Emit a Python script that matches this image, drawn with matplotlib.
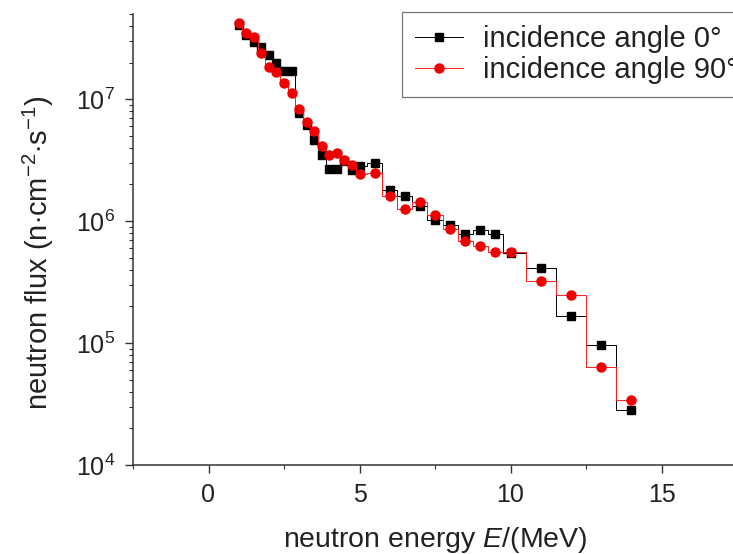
import matplotlib
matplotlib.use("Agg")
import matplotlib.pyplot as plt
from matplotlib.ticker import MultipleLocator, LogLocator, NullFormatter

plt.rcParams["font.family"] = ["Liberation Sans", "DejaVu Sans"]
plt.rcParams["mathtext.fontset"] = "custom"
plt.rcParams["mathtext.rm"] = "Liberation Sans"
plt.rcParams["mathtext.it"] = "Liberation Sans:italic"
plt.rcParams["mathtext.bf"] = "Liberation Sans:bold"

# neutron energy bins (MeV) and flux for the two incidence angles
energy = [1.0, 1.25, 1.5, 1.75, 2.0, 2.25, 2.5, 2.75, 3.0, 3.25, 3.5, 3.75,
          4.0, 4.25, 4.5, 4.75, 5.0, 5.5, 6.0, 6.5, 7.0, 7.5, 8.0, 8.5,
          9.0, 9.5, 10.0, 11.0, 12.0, 13.0, 14.0]
flux_0 = [4.1e7, 3.35e7, 2.93e7, 2.67e7, 2.30e7, 1.97e7, 1.70e7, 1.70e7,
          7.68e6, 6.12e6, 4.61e6, 3.47e6, 2.67e6, 2.67e6, 3.1e6, 2.62e6,
          2.82e6, 2.99e6, 1.79e6, 1.61e6, 1.33e6, 1.02e6, 9.27e5, 7.82e5,
          8.44e5, 7.82e5, 5.47e5, 4.14e5, 1.67e5, 9.6e4, 2.82e4]
flux_90 = [4.2e7, 3.50e7, 3.24e7, 2.38e7, 1.84e7, 1.67e7, 1.36e7, 1.13e7,
           8.24e6, 6.48e6, 5.47e6, 4.12e6, 3.47e6, 3.59e6, 3.20e6, 2.88e6,
           2.43e6, 2.47e6, 1.60e6, 1.25e6, 1.44e6, 1.13e6, 8.55e5, 6.90e5,
           6.24e5, 5.60e5, 5.60e5, 3.22e5, 2.47e5, 6.4e4, 3.41e4]
labels = ["incidence angle 0°", "incidence angle 90°"]

W, H = 733, 554
fig = plt.figure(figsize=(W / 100, H / 100), dpi=100)
ax = fig.add_axes([133 / W, 89 / H, 604 / W, 451 / H])

text_color = "#222222"

ax.step(energy, flux_0, where="mid", color="black", lw=0.7,
        marker="s", ms=5.5, mec="black", mfc="black", label=labels[0])
ax.step(energy, flux_90, where="mid", color="#ff2020", lw=0.7,
        marker="o", ms=6.5, mec="#ee0000", mfc="#ee0000", label=labels[1])

ax.set_yscale("log")
ax.set_xlim(-2.5, 17.5)
ax.set_ylim(1e4, 5e7)

ax.xaxis.set_major_locator(MultipleLocator(5))
ax.xaxis.set_minor_locator(MultipleLocator(2.5))
ax.yaxis.set_major_locator(LogLocator(base=10, numticks=10))
ax.yaxis.set_minor_locator(LogLocator(base=10, subs=range(2, 10), numticks=20))
ax.yaxis.set_minor_formatter(NullFormatter())

for side in ("top", "right"):
    ax.spines[side].set_visible(False)
for side in ("left", "bottom"):
    ax.spines[side].set_linewidth(1.1)
    ax.spines[side].set_color("#333333")

ax.tick_params(which="major", direction="out", length=6, width=1.0,
               labelsize=18, colors="#333333", labelcolor=text_color, pad=7)
ax.tick_params(which="minor", direction="out", length=3, width=0.8,
               colors="#333333")

ax.set_xlabel(r"neutron energy $\it{E}$/(MeV)", fontsize=20.5, color=text_color,
              labelpad=13)
ax.set_ylabel(r"neutron flux (n$\cdot$cm$^{-2}$$\cdot$s$^{-1}$)", fontsize=21,
              color=text_color)
ax.yaxis.set_label_coords(-0.128, 0.47)

leg = ax.legend(loc="upper left", bbox_to_anchor=(0.445, 1.005),
                borderaxespad=0, fontsize=21, frameon=True, fancybox=False,
                numpoints=1, handlelength=1.65, handletextpad=0.7,
                borderpad=0.45, labelspacing=0.12)
leg.get_frame().set_edgecolor("#555555")
leg.get_frame().set_linewidth(0.9)
for t in leg.get_texts():
    t.set_color(text_color)

fig.savefig("out.png", dpi=100)
